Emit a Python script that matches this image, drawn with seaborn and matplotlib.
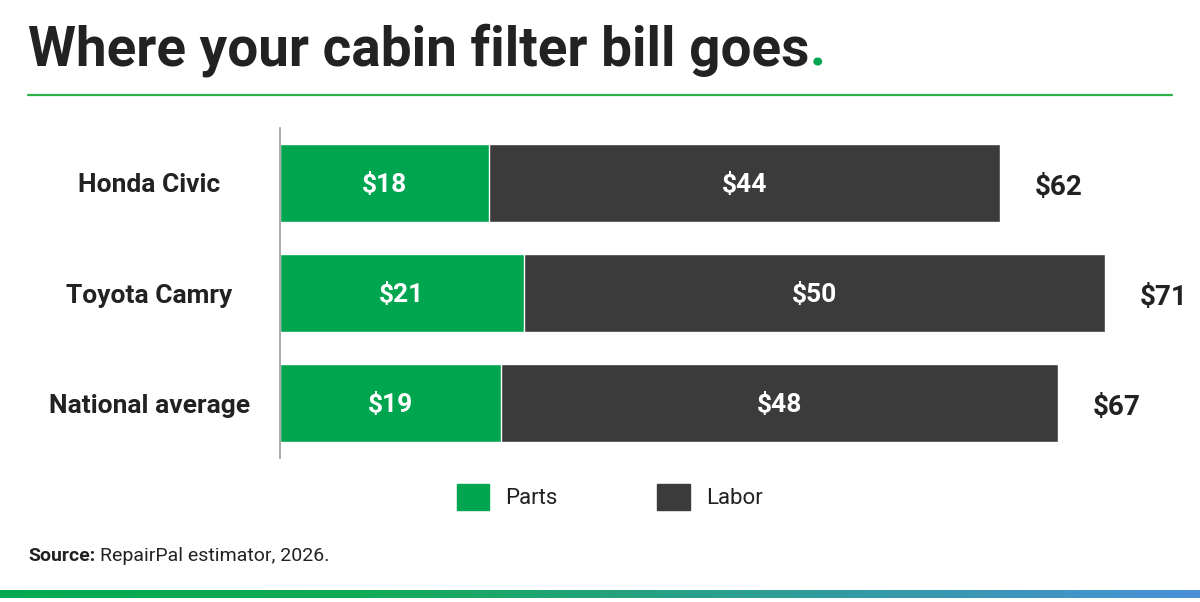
import matplotlib.pyplot as plt
import matplotlib.patches as mpatches
from matplotlib.colors import LinearSegmentedColormap
from matplotlib.lines import Line2D
import numpy as np
import pandas as pd
import seaborn as sns

sns.set_theme(style="white")
plt.rcParams["font.family"] = ["Roboto", "DejaVu Sans"]

vehicles = ["Honda Civic", "Toyota Camry", "National average"]
parts = [18, 21, 19]
labor = [44, 50, 48]

GREEN = "#00a64f"
DARK = "#3b3b3b"
TEXT = "#222222"

df = pd.DataFrame({"vehicle": vehicles, "parts": parts, "labor": labor})
df["total"] = df["parts"] + df["labor"]

fig = plt.figure(figsize=(12, 6.02), dpi=100)
ax = fig.add_axes([280 / 1200, 144 / 602, 900 / 1200, 330 / 602])

# stacked bars: total underneath, parts drawn over it
sns.barplot(data=df, x="total", y="vehicle", color=DARK, width=0.71, ax=ax, saturation=1)
sns.barplot(data=df, x="parts", y="vehicle", color=GREEN, width=0.71, ax=ax, saturation=1)

ax.set_xlim(0, 77.5)
ax.set_ylim(2.5, -0.5)
ax.set_xlabel("")
ax.set_ylabel("")
ax.set_xticks([])
for s in ["top", "right", "bottom"]:
    ax.spines[s].set_visible(False)
ax.spines["left"].set_color("#9a9a9a")
ax.spines["left"].set_linewidth(1.2)

ax.tick_params(axis="y", length=0, pad=94)
for lbl in ax.get_yticklabels():
    lbl.set_ha("center")
    lbl.set_fontsize(19)
    lbl.set_fontweight("bold")
    lbl.set_color(TEXT)

for i, row in df.iterrows():
    ax.text(row["parts"] / 2, i + 0.02, f"${row['parts']}", ha="center", va="center",
            color="white", fontsize=19, fontweight="bold")
    ax.text(row["parts"] + row["labor"] / 2, i + 0.02, f"${row['labor']}", ha="center", va="center",
            color="white", fontsize=19, fontweight="bold")
    ax.text(row["total"] + 3, i + 0.04, f"${row['total']}", ha="left", va="center",
            color=TEXT, fontsize=20, fontweight="bold")

# title with green period
title = fig.text(28 / 1200, 1 - 50 / 602, "Where your cabin filter bill goes", fontsize=39.5,
                 fontweight="bold", color=TEXT, ha="left", va="center")
fig.canvas.draw()
bb = title.get_window_extent()
fig.text(bb.x1 / 1200, 1 - 50 / 602, ".", fontsize=39.5, fontweight="bold", color=GREEN,
         ha="left", va="center")

fig.add_artist(Line2D([28 / 1200, 1172 / 1200], [1 - 95 / 602, 1 - 95 / 602],
                      color="#2db34a", linewidth=1.6))

handles = [mpatches.Patch(color=GREEN, label="Parts"), mpatches.Patch(color=DARK, label="Labor")]
fig.legend(handles=handles, loc="center", bbox_to_anchor=(0.508, 1 - 497 / 602), ncol=2,
           frameon=False, fontsize=16, handlelength=1.45, handleheight=1.45,
           handletextpad=0.72, columnspacing=4.5, labelcolor=TEXT)

src = fig.text(28 / 1200, 1 - 556 / 602, "Source:", fontsize=14, fontweight="bold",
               color=TEXT, ha="left", va="center")
fig.canvas.draw()
sb = src.get_window_extent()
fig.text((sb.x1 + 5) / 1200, 1 - 556 / 602, "RepairPal estimator, 2026.", fontsize=14,
         color=TEXT, ha="left", va="center")

# gradient strip along the bottom
cmap = LinearSegmentedColormap.from_list("strip", [(0, "#00a94f"), (0.3, "#12ab55"), (1, "#4a90d9")])
gax = fig.add_axes([0, 4 / 602, 1, 8 / 602])
gax.imshow(np.linspace(0, 1, 256).reshape(1, -1), aspect="auto", cmap=cmap)
gax.set_axis_off()

fig.savefig("out.png", dpi=100, facecolor="white")
